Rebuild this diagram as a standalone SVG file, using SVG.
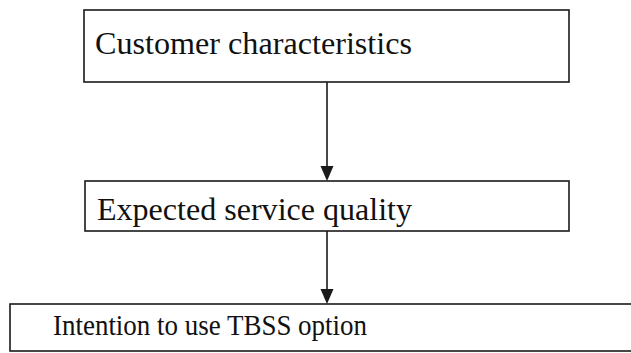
<svg xmlns="http://www.w3.org/2000/svg" width="631" height="353" viewBox="0 0 631 353">
<defs>
<style>
.box{fill:#fff;stroke:#1a1a1a;stroke-width:1.6}
.t{font-family:"Liberation Serif","Times New Roman",serif;fill:#111}
.c{stroke:#1a1a1a;stroke-width:1.6;fill:none}
.ah{fill:#1a1a1a}
</style>
</defs>
<rect width="631" height="353" fill="#fff"/>
<g id="connectors">
<line class="c" x1="327" y1="82" x2="327" y2="166"/>
<path class="ah" d="M320.5,166 L333.5,166 L327,181 Z"/>
<line class="c" x1="327" y1="231" x2="327" y2="289"/>
<path class="ah" d="M320.5,289 L333.5,289 L327,304 Z"/>
</g>
<g id="node-customer">
<rect class="box" x="84" y="10" width="485" height="72"/>
<text class="t" x="95" y="54" font-size="32" textLength="317" lengthAdjust="spacingAndGlyphs">Customer characteristics</text>
</g>
<g id="node-expected">
<rect class="box" x="85" y="181" width="484" height="50"/>
<text class="t" x="97" y="220" font-size="32" textLength="315" lengthAdjust="spacingAndGlyphs">Expected service quality</text>
</g>
<g id="node-intention">
<rect class="box" x="10" y="304" width="630" height="47"/>
<text class="t" x="53" y="335" font-size="30" textLength="314" lengthAdjust="spacingAndGlyphs">Intention to use TBSS option</text>
</g>
</svg>
